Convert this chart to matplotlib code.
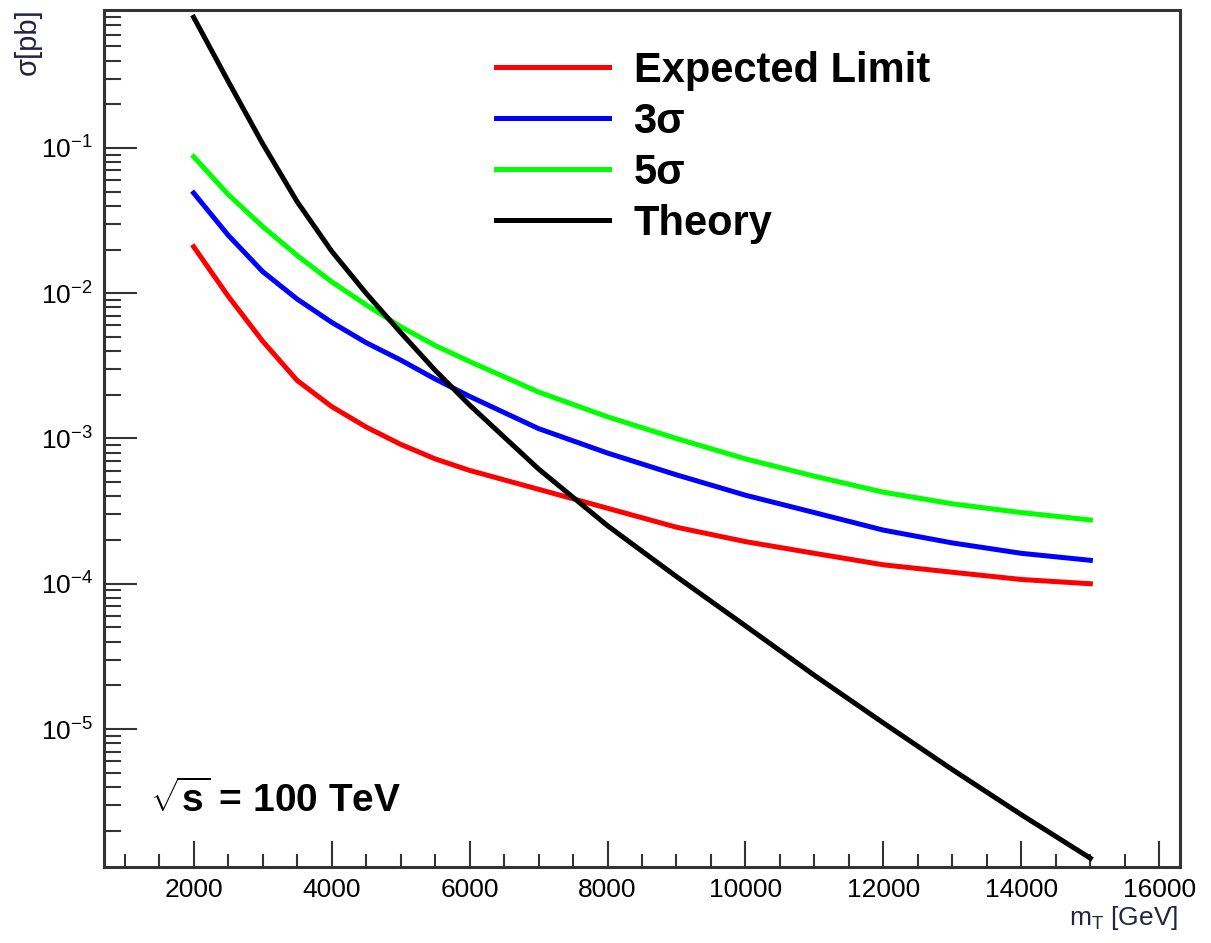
import matplotlib.pyplot as plt
from matplotlib.ticker import LogLocator, MultipleLocator, NullFormatter

plt.rcParams['font.family'] = ['Liberation Sans', 'DejaVu Sans']
plt.rcParams['mathtext.fontset'] = 'custom'
plt.rcParams['mathtext.rm'] = 'Liberation Sans'
plt.rcParams['mathtext.bf'] = 'Liberation Sans:bold'
plt.rcParams['mathtext.it'] = 'Liberation Sans:italic'
plt.rcParams['axes.unicode_minus'] = False

# маса (GeV) і перерізи (pb)
mass = [2000, 2500, 3000, 3500, 4000, 4500, 5000, 5500, 6000,
        7000, 8000, 9000, 10000, 11000, 12000, 13000, 14000, 15000]
expected = [2.09e-2, 9.55e-3, 4.68e-3, 2.51e-3, 1.66e-3, 1.20e-3, 9.12e-4, 7.24e-4, 6.03e-4,
            4.47e-4, 3.31e-4, 2.45e-4, 1.95e-4, 1.62e-4, 1.35e-4, 1.20e-4, 1.07e-4, 1.00e-4]
sigma3 = [4.90e-2, 2.51e-2, 1.41e-2, 9.12e-3, 6.31e-3, 4.57e-3, 3.47e-3, 2.57e-3, 1.95e-3,
          1.17e-3, 7.94e-4, 5.62e-4, 4.07e-4, 3.09e-4, 2.34e-4, 1.91e-4, 1.62e-4, 1.45e-4]
sigma5 = [8.71e-2, 4.79e-2, 2.88e-2, 1.82e-2, 1.20e-2, 8.32e-3, 5.89e-3, 4.37e-3, 3.39e-3,
          2.09e-3, 1.41e-3, 1.00e-3, 7.24e-4, 5.50e-4, 4.27e-4, 3.55e-4, 3.09e-4, 2.75e-4]
theory = [0.794, 0.288, 0.107, 4.27e-2, 1.95e-2, 1.00e-2, 5.37e-3, 2.95e-3, 1.70e-3,
          6.17e-4, 2.51e-4, 1.12e-4, 5.13e-5, 2.34e-5, 1.10e-5, 5.25e-6, 2.57e-6, 1.29e-6]

fig = plt.figure(figsize=(12.11, 9.43), dpi=100)
ax = fig.add_axes([104 / 1211, 1 - 867 / 943, (1180 - 104) / 1211, (867 - 10) / 943])

lw = 3.6
ax.plot(mass, expected, color='#ff0000', lw=lw, label='Expected Limit', solid_joinstyle='round')
ax.plot(mass, sigma3, color='#0000ff', lw=lw, label='3σ', solid_joinstyle='round')
ax.plot(mass, sigma5, color='#00ff00', lw=lw, label='5σ', solid_joinstyle='round')
ax.plot(mass, theory, color='black', lw=lw, label='Theory', solid_joinstyle='round')

ax.set_yscale('log')
ax.set_xlim(700, 16300)
ax.set_ylim(10 ** -5.95, 10 ** -0.05)

ax.xaxis.set_major_locator(MultipleLocator(2000))
ax.xaxis.set_minor_locator(MultipleLocator(500))
ax.yaxis.set_major_locator(LogLocator(base=10, numticks=20))
ax.yaxis.set_minor_locator(LogLocator(base=10, subs=range(2, 10), numticks=20))
ax.yaxis.set_minor_formatter(NullFormatter())

ax.tick_params(axis='both', which='both', direction='in', color='#333333',
               top=False, right=False, labelsize=19, width=1.5)
ax.tick_params(axis='y', which='major', length=24, pad=8)
ax.tick_params(axis='y', which='minor', length=12)
ax.tick_params(axis='x', which='major', length=19, pad=8)
ax.tick_params(axis='x', which='minor', length=9.5)
for s in ax.spines.values():
    s.set_linewidth(2.2)
    s.set_color('#333333')

leg = ax.legend(loc='upper left', bbox_to_anchor=(496 / 1211, 1 - 51 / 943),
                bbox_transform=fig.transFigure, frameon=False, borderpad=0,
                borderaxespad=0, handlelength=2.7, handletextpad=0.6,
                labelspacing=0.26, prop={'weight': 'bold', 'size': 30})

fig.text(150 / 1211, 1 - 800 / 943, r'$\sqrt{\mathbf{s}}$ = 100 TeV',
         fontsize=28, fontweight='bold', ha='left', va='center')
fig.text(28 / 1211, 1 - 8 / 943, 'σ[pb]', rotation=90, fontsize=21,
         ha='center', va='top', color='#222244')
fig.text(1178 / 1211, 1 - 918 / 943, r'm$_{\mathrm{T}}$ [GeV]', fontsize=19,
         ha='right', va='center', color='#222244')

fig.savefig('out.png', dpi=100)
